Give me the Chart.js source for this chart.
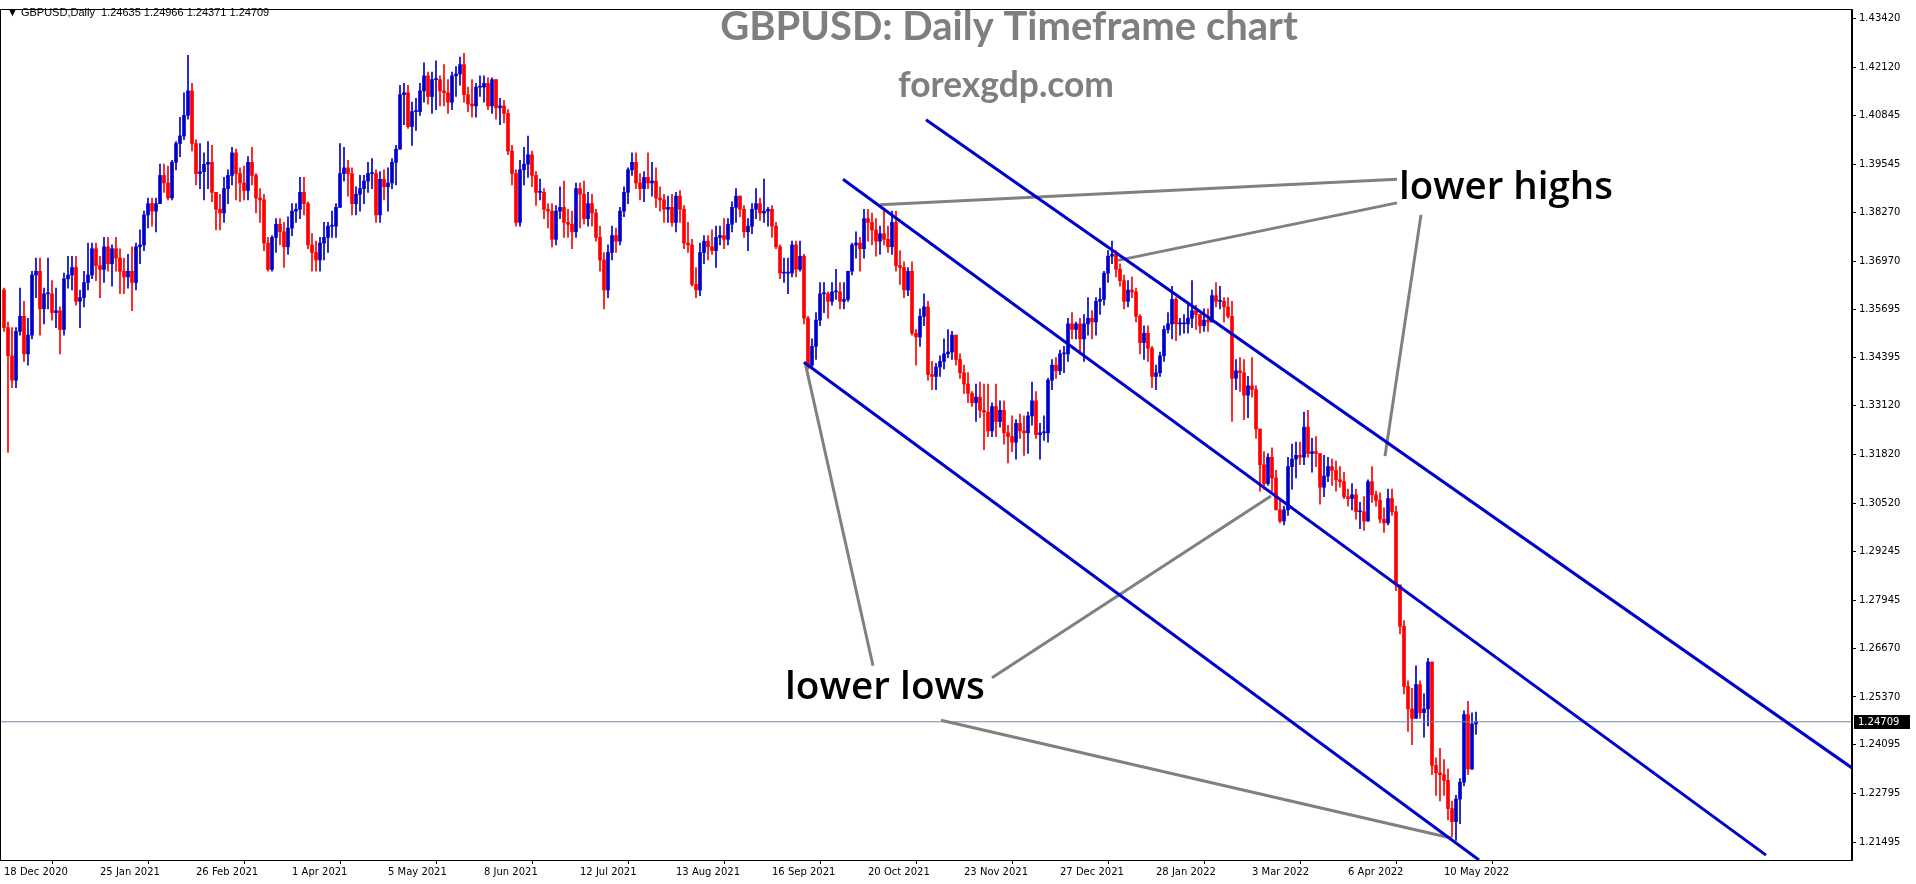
<!DOCTYPE html>
<html><head><meta charset="utf-8">
<script src="https://cdn.jsdelivr.net/npm/chart.js@4"></script>
<style>html,body{margin:0;padding:0;background:#fff;overflow:hidden}#w{width:1916px;height:884px}</style>
</head><body><div id="w"><canvas id="c"></canvas></div>
<script>
// ---- data (prices in 1/10000) ----
const firstOpen = 13620;
const closes = [
13520,13445,13380,13510,13550,13450,13500,13660,13670,
13570,13610,13610,13560,13565,13515,13650,13660,13680,13590,13600,13640,13660,13730,13685,13675,13735,13690,13730,13705,
13670,13655,13670,13640,13735,13740,13820,13850,13830,13850,13925,13905,13865,13960,14010,14030,14085,14150,14010,13930,
13935,13955,13960,13880,13835,13825,13890,13925,13985,13930,13905,13885,13960,13925,13865,13860,13745,13675,13760,13795,13775,13735,13785,
13830,13835,13880,13850,13740,13720,13700,13745,13760,13790,13790,13840,13930,13945,13930,13850,13875,13890,13910,13930,13930,13820,
13915,13895,13905,13960,13995,14140,14145,14055,14095,14095,14150,14190,14135,14180,14180,14150,14145,14120,14190,14195,14220,
14140,14115,14110,14160,14160,14170,14110,14180,14105,14110,14090,13990,13930,13800,13940,13955,13980,13925,13880,13880,13835,13830,
13755,13830,13840,13800,13795,13775,13890,13875,13810,13850,13825,13760,13700,13620,13720,13765,13750,13830,13880,13940,13960,13905,
13890,13920,13905,13910,13865,13860,13835,13840,13800,13870,13835,13745,13740,13635,13620,13720,13750,13735,13725,13760,13765,13755,
13795,13840,13870,13835,13775,13790,13835,13850,13825,13830,13835,13790,13735,13665,13665,13665,13740,13675,13710,13545,13420,13470,
13540,13610,13610,13590,13615,13615,13590,13595,13670,13740,13745,13730,13810,13800,13780,13750,13770,13755,13735,13800,13685,
13680,13620,13670,13505,13495,13550,13575,13395,13390,13415,13430,13450,13455,13500,13435,13400,13370,13345,13320,13335,13300,13295,
13245,13310,13270,13300,13240,13230,13215,13265,13245,13240,13285,13325,13235,13240,13240,13380,13420,13405,13450,13450,13530,13515,13530,
13490,13530,13545,13535,13590,13595,13665,13710,13715,13675,13645,13590,13620,13615,13550,13480,13505,13465,13390,13400,13445,
13515,13530,13595,13530,13530,13530,13545,13565,13555,13525,13540,13535,13605,13590,13590,13575,13550,13385,13405,13400,
13340,13365,13355,13250,13155,13105,13175,13120,13035,13005,13035,13150,13170,13180,13175,13255,13185,13190,13185,13095,13125,13150,13140,
13115,13110,13070,13065,13075,13030,13030,13005,13110,13075,13060,13010,13000,13065,13030,12835,12725,12565,12505,12480,12570,
12495,12505,12630,12355,12335,12330,12315,12240,12205,12265,12310,12490,12345,12465,12471];
const highs = [
13625,13535,13520,13520,13625,13590,13545,13670,13705,
13705,13625,13705,13645,13625,13575,13665,13710,13710,13710,13620,13670,13745,13745,13745,13710,13760,13760,13740,13760,
13730,13705,13715,13735,13745,13780,13830,13865,13865,13865,13955,13955,13950,13965,14015,14080,14145,14245,14170,14020,
14010,13985,14015,14005,13875,13875,13920,13940,14000,13995,13945,13950,13975,14000,13930,13890,13875,13760,13765,13810,13810,13800,13815,
13850,13850,13920,13920,13855,13770,13750,13760,13800,13800,13830,13850,14010,14000,13965,13945,13895,13925,13925,13960,13970,13940,
13935,13940,13945,13970,14005,14165,14170,14165,14120,14130,14170,14225,14200,14200,14230,14190,14220,14180,14200,14215,14240,
14250,14160,14180,14170,14190,14190,14185,14185,14180,14130,14125,14100,14005,13940,13965,14000,14030,13990,13935,13915,13890,13850,
13850,13845,13895,13910,13835,13830,13905,13905,13910,13880,13875,13835,13790,13720,13740,13790,13785,13840,13895,13945,13985,13985,
13930,13935,13985,13960,13945,13895,13875,13870,13875,13880,13885,13845,13800,13755,13680,13745,13765,13765,13780,13790,13790,13810,
13810,13855,13890,13870,13845,13810,13850,13890,13865,13915,13840,13845,13800,13740,13705,13705,13750,13750,13750,13715,13550,13490,
13560,13640,13640,13615,13640,13675,13640,13640,13670,13745,13775,13760,13835,13835,13825,13810,13790,13830,13790,13830,13830,
13725,13695,13680,13695,13515,13570,13610,13590,13430,13425,13445,13490,13515,13510,13500,13450,13420,13400,13350,13370,13375,13370,
13370,13320,13370,13325,13325,13260,13285,13275,13290,13285,13295,13375,13350,13265,13285,13385,13435,13440,13460,13470,13545,13560,13535,
13545,13555,13600,13565,13600,13625,13670,13725,13750,13725,13690,13660,13645,13655,13625,13555,13525,13525,13470,13420,13455,
13525,13560,13630,13600,13545,13555,13585,13645,13580,13550,13570,13570,13620,13640,13630,13600,13600,13590,13435,13440,
13435,13390,13440,13365,13220,13190,13185,13200,13140,13065,13045,13175,13210,13215,13215,13295,13300,13225,13230,13185,13180,13175,13170,
13165,13150,13135,13090,13105,13090,13055,13070,13115,13150,13085,13080,13040,13090,13090,13045,12835,12740,12580,12560,12620,
12580,12545,12640,12620,12375,12400,12370,12345,12260,12275,12320,12500,12525,12495,12497];
const lows = [
13510,13188,13360,13360,13500,13430,13420,13490,13600,
13500,13530,13570,13540,13520,13450,13500,13625,13620,13580,13520,13575,13620,13650,13645,13600,13640,13670,13630,13670,
13610,13610,13625,13565,13620,13690,13725,13785,13790,13775,13850,13880,13860,13860,13940,13975,14020,14075,13990,13900,
13890,13860,13890,13855,13780,13780,13800,13850,13900,13860,13855,13860,13860,13900,13825,13800,13725,13670,13670,13720,13740,13680,13715,
13765,13800,13810,13820,13730,13670,13670,13670,13700,13720,13760,13760,13840,13910,13870,13820,13820,13830,13850,13880,13890,13800,
13800,13860,13830,13890,13900,13995,14060,14050,14005,14045,14085,14120,14115,14090,14100,14110,14110,14090,14100,14135,14165,
14120,14095,14080,14080,14135,14120,14100,14090,14075,14060,14065,13980,13900,13790,13790,13900,13920,13895,13845,13860,13810,13785,
13735,13740,13810,13760,13760,13730,13760,13785,13795,13790,13790,13750,13670,13570,13600,13700,13720,13740,13815,13850,13925,13890,
13860,13855,13890,13870,13840,13830,13800,13800,13790,13775,13800,13730,13720,13630,13600,13605,13690,13700,13715,13680,13740,13730,
13740,13775,13800,13815,13760,13725,13770,13810,13805,13800,13790,13760,13730,13650,13640,13610,13655,13655,13670,13530,13410,13415,
13435,13525,13560,13545,13580,13595,13570,13570,13590,13660,13705,13670,13705,13750,13740,13710,13715,13740,13720,13715,13670,
13635,13600,13605,13500,13420,13470,13525,13380,13355,13355,13390,13410,13440,13435,13420,13385,13345,13320,13310,13270,13280,13195,
13230,13230,13230,13255,13210,13160,13190,13170,13225,13180,13185,13260,13225,13170,13220,13215,13355,13385,13395,13400,13430,13490,13490,
13450,13430,13500,13490,13500,13555,13580,13640,13690,13655,13630,13570,13575,13600,13535,13450,13435,13430,13360,13355,13390,
13430,13505,13490,13485,13500,13505,13505,13520,13515,13505,13510,13510,13550,13575,13570,13535,13545,13270,13355,13350,
13275,13280,13335,13225,13085,13090,13100,13085,13035,13000,12995,13020,13090,13120,13155,13155,13175,13135,13150,13050,13070,13110,13100,
13085,13095,13065,13045,13035,13010,12985,12980,13005,13055,13045,13000,12975,12995,13020,12820,12705,12545,12445,12410,12500,
12480,12430,12460,12330,12275,12260,12275,12210,12165,12155,12200,12300,12330,12360,12437];
const tickIdx = [0,24,48,72,96,120,144,168,192,216,240,264,288,312,336,360];
const tickDates = ['18 Dec 2020','25 Jan 2021','26 Feb 2021','1 Apr 2021','5 May 2021','8 Jun 2021','12 Jul 2021','13 Aug 2021','16 Sep 2021','20 Oct 2021','23 Nov 2021','27 Dec 2021','28 Jan 2022','3 Mar 2022','6 Apr 2022','10 May 2022'];
const priceTicks = [1.43420,1.42120,1.40845,1.39545,1.38270,1.36970,1.35695,1.34395,1.33120,1.31820,1.30520,1.29245,1.27945,1.26670,1.25370,1.24095,1.22795,1.21495];
const lastPrice = 1.24709;
// trend lines: [barIndex, price] endpoints
const channelTop = [[230.5,1.4073],[462,1.2348]];
const channelMid = [[209.75,1.3915],[440.5,1.2116]];
const channelBot = [[200,1.3428],[368.75,1.2103]];
const grayLines = [
 [[219,1.3847],[348.25,1.3915]],
 [[278.5,1.3699],[348.25,1.3852]],
 [[354.25,1.3820],[345.25,1.3178]],
 [[217.25,1.2620],[200.25,1.3428]],
 [[247,1.2588],[316.75,1.3072]],
 [[234.25,1.2475],[362,1.2161]]];

// ---- build ----
const BLUE='#0000CD', RED='#FF0000', GRAY='#808080';
const bodies=[], wicks=[], bodyCol=[];
for(let i=0;i<closes.length;i++){
  const o=(i===0?firstOpen:closes[i-1]), c=closes[i];
  const h=Math.max(highs[i],o,c), l=Math.min(lows[i],o,c);
  bodies.push({x:i,y:[o/1e4,c/1e4]});
  wicks.push({x:i,y:[l/1e4,h/1e4]});
  bodyCol.push(c>=o?BLUE:RED);
}
const lineDs=(pts,col,w)=>({type:'line',data:pts.map(p=>({x:p[0],y:p[1]})),borderColor:col,borderWidth:w,pointRadius:0,fill:false,tension:0});
const datasets=[];
datasets.push(lineDs(channelTop,BLUE,3),lineDs(channelMid,BLUE,3),lineDs(channelBot,BLUE,3));
grayLines.forEach(g=>datasets.push(lineDs(g,GRAY,3)));
datasets.push(lineDs([[-1,lastPrice],[462,lastPrice]],'#7788a0',1));
datasets.push({type:'bar',data:bodies,backgroundColor:bodyCol,borderWidth:0,barThickness:3,minBarLength:1,grouped:false});
datasets.push({type:'bar',data:wicks,backgroundColor:bodyCol,borderWidth:0,barThickness:1,grouped:false});

const fitText=(ctx,text,weight,family,width,cx,cy,color)=>{
  ctx.font=`${weight} 40px ${family}`;
  const s=40*width/ctx.measureText(text).width;
  ctx.font=`${weight} ${s}px ${family}`;
  ctx.fillStyle=color;ctx.textAlign='center';ctx.textBaseline='middle';
  ctx.fillText(text,cx,cy);
};
const deco={id:'deco',
 beforeDraw(ch){const c=ch.ctx;c.save();c.fillStyle='#fff';c.fillRect(0,0,ch.width,ch.height);c.restore();},
 afterDraw(ch){
  const c=ch.ctx,a=ch.chartArea;c.save();
  c.strokeStyle='#000';c.lineWidth=1;c.strokeRect(a.left+0.5,a.top+0.5,a.right-a.left-1,a.bottom-a.top);
  fitText(c,'GBPUSD: Daily Timeframe chart','bold','Lato',578,1009,27,'#7f7f7f');
  fitText(c,'forexgdp.com','bold','Lato',216,1006,86,'#7f7f7f');
  fitText(c,'lower highs','600','"Open Sans"',214,1506,188,'#000');
  fitText(c,'lower lows','600','"Open Sans"',200,885,688,'#000');
  c.font='11px "Liberation Sans"';c.fillStyle='#000';c.textAlign='left';c.textBaseline='middle';
  c.fillText('▼ GBPUSD,Daily  1.24635 1.24966 1.24371 1.24709',7,13);
  const y=ch.scales.y.getPixelForValue(lastPrice);
  c.fillStyle='#000';c.fillRect(1854,Math.round(y)-7,56,14);
  c.fillStyle='#fff';c.font='10px "DejaVu Sans"';c.fillText(lastPrice.toFixed(5),1858,Math.round(y));
  c.restore();}
};
new Chart(document.getElementById('c'),{
 type:'bar',data:{datasets},
 options:{responsive:true,maintainAspectRatio:false,animation:false,
  layout:{padding:0},
  plugins:{legend:{display:false},tooltip:{enabled:false}},
  scales:{
   x:{type:'linear',min:-1,max:462,offset:false,
      afterBuildTicks:s=>{s.ticks=tickIdx.map(v=>({value:v}));},
      afterFit:s=>{s.height=24;},
      grid:{drawOnChartArea:false,drawTicks:true,tickLength:4,color:'#000'},
      border:{display:true,color:'#000'},
      ticks:{align:'start',padding:2,maxRotation:0,autoSkip:false,color:'#000',font:{family:'DejaVu Sans',size:10},
        callback:v=>tickDates[tickIdx.indexOf(v)]||''}},
   y:{type:'linear',position:'right',min:1.2103,max:1.4368,
      afterBuildTicks:s=>{s.ticks=priceTicks.map(v=>({value:v}));},
      afterFit:s=>{s.width=64;},
      grid:{drawOnChartArea:false,drawTicks:true,tickLength:4,color:'#000'},
      border:{display:true,color:'#000'},
      ticks:{padding:3,autoSkip:false,color:'#000',font:{family:'DejaVu Sans',size:10},callback:v=>Number(v).toFixed(5)}}
  }},
 plugins:[deco]});
</script></body></html>
